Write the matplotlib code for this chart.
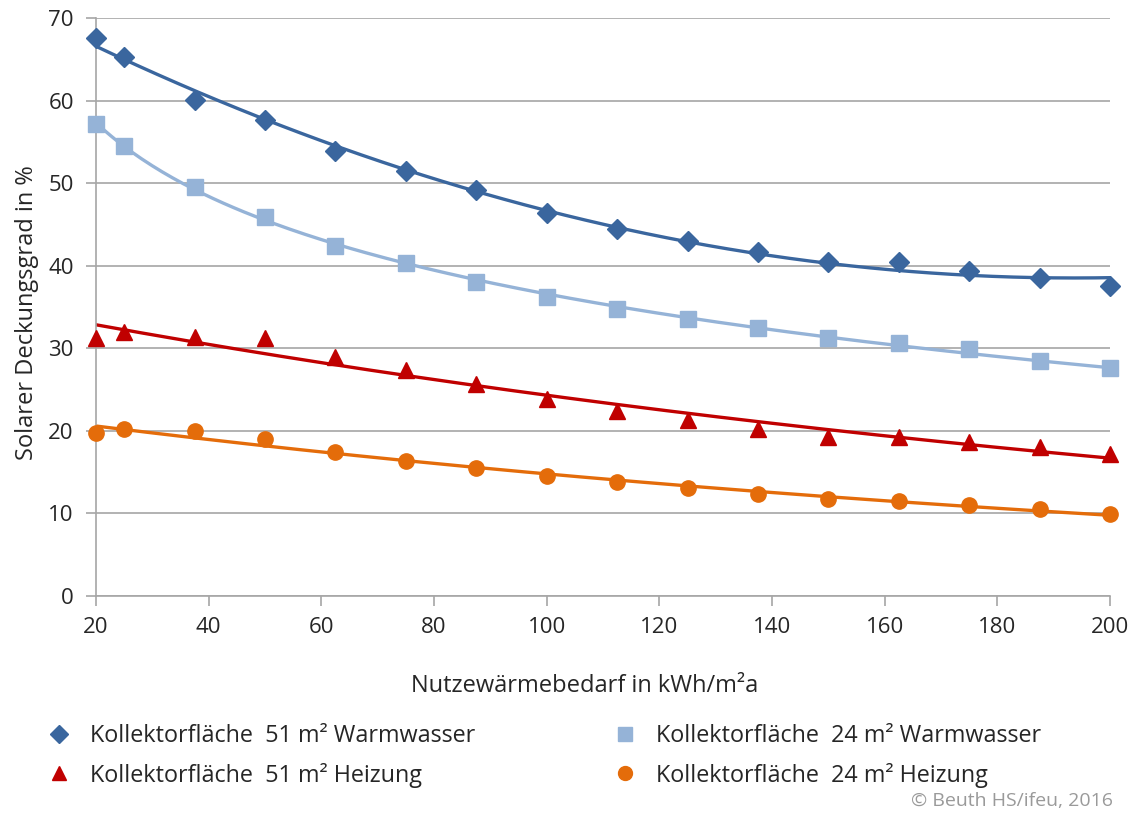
import numpy as np
import matplotlib
matplotlib.use("Agg")
from matplotlib import pyplot as plt
from matplotlib.lines import Line2D

plt.rcParams['font.family'] = ['Open Sans', 'DejaVu Sans']

# Nutzwärmebedarf (kWh/m²a)
x_vals = [20, 25, 37.5, 50, 62.5, 75, 87.5, 100, 112.5, 125, 137.5, 150, 162.5, 175, 187.5, 200]

# Solarer Deckungsgrad in %
ww_51 = [67.6, 65.3, 60.1, 57.6, 53.9, 51.5, 49.2, 46.4, 44.5, 43.0, 41.6, 40.4, 40.4, 39.3, 38.5, 37.6]
ww_24 = [57.2, 54.5, 49.5, 45.9, 42.4, 40.3, 38.0, 36.2, 34.8, 33.6, 32.5, 31.3, 30.6, 29.9, 28.4, 27.6]
hz_51 = [31.3, 32.0, 31.4, 31.3, 28.9, 27.4, 25.7, 23.9, 22.4, 21.3, 20.2, 19.3, 19.3, 18.6, 18.1, 17.2]
hz_24 = [19.7, 20.2, 20.0, 19.0, 17.4, 16.4, 15.5, 14.5, 13.8, 13.1, 12.3, 11.8, 11.5, 11.0, 10.5, 9.9]

labels = ["Kollektorfläche  51 m² Warmwasser", "Kollektorfläche  24 m² Warmwasser",
          "Kollektorfläche  51 m² Heizung", "Kollektorfläche  24 m² Heizung"]

c_dark = '#3A669E'
c_light = '#95B3D7'
c_red = '#C00000'
c_orange = '#E46C0A'
grid_c = '#A6A6A6'
text_c = '#262626'

x = np.array(x_vals)
xs = np.linspace(20, 200, 200)

# Trendlinien wie in Excel: polynomisch, logarithmisch, exponentiell
fit_ww51 = np.polyval(np.polyfit(x, ww_51, 2), xs)
fit_ww24 = np.polyval(np.polyfit(np.log(x), ww_24, 1), np.log(xs))
fit_hz51 = np.exp(np.polyval(np.polyfit(x, np.log(hz_51), 1), xs))
fit_hz24 = np.exp(np.polyval(np.polyfit(x, np.log(hz_24), 1), xs))

fig = plt.figure(figsize=(11.35, 8.17), dpi=100)
ax = fig.add_axes([0.0846, 0.2705, 0.8934, 0.7075])

ax.plot(xs, fit_ww51, color=c_dark, lw=2.4, zorder=2)
ax.plot(xs, fit_ww24, color=c_light, lw=2.4, zorder=2)
ax.plot(xs, fit_hz51, color=c_red, lw=2.4, zorder=2)
ax.plot(xs, fit_hz24, color=c_orange, lw=2.4, zorder=2)

ax.plot(x, ww_51, ls='none', marker='D', ms=10, color=c_dark, zorder=3, clip_on=False)
ax.plot(x, ww_24, ls='none', marker='s', ms=11, color=c_light, zorder=3, clip_on=False)
ax.plot(x, hz_51, ls='none', marker='^', ms=11, color=c_red, zorder=3, clip_on=False)
ax.plot(x, hz_24, ls='none', marker='o', ms=11, color=c_orange, zorder=3, clip_on=False)

ax.set_xlim(20, 200)
ax.set_ylim(0, 70)
ax.set_xticks(range(20, 201, 20))
ax.set_yticks(range(0, 71, 10))
ax.grid(axis='y', color=grid_c, lw=1.2)
ax.set_axisbelow(True)
for s in ['top', 'right']:
    ax.spines[s].set_visible(False)
for s in ['left', 'bottom']:
    ax.spines[s].set_color(grid_c)
    ax.spines[s].set_linewidth(1.2)
ax.tick_params(axis='both', colors=grid_c, labelcolor=text_c, labelsize=16,
               length=7, width=1.2)
ax.tick_params(axis='x', pad=8)
ax.tick_params(axis='y', pad=9)

ax.set_xlabel("Nutzewärmebedarf in kWh/m²a", fontsize=17, color=text_c)
ax.set_ylabel("Solarer Deckungsgrad in %", fontsize=17, color=text_c)
ax.xaxis.set_label_coords(0.482, -0.135)
ax.yaxis.set_label_coords(-0.056, 0.49)

handles = [
    Line2D([], [], ls='none', marker='D', ms=9, color=c_dark),
    Line2D([], [], ls='none', marker='^', ms=10, color=c_red),
    Line2D([], [], ls='none', marker='s', ms=10, color=c_light),
    Line2D([], [], ls='none', marker='o', ms=10, color=c_orange),
]
leg_labels = [labels[0], labels[2], labels[1], labels[3]]
fig.legend(handles, leg_labels, loc='upper left', bbox_to_anchor=(0.029, 0.128),
           ncol=2, frameon=False, fontsize=16.8, labelcolor=text_c,
           handletextpad=0.75, columnspacing=5.8, labelspacing=0.62,
           handlelength=1.2, borderpad=0)

fig.text(0.981, 0.009, "© Beuth HS/ifeu, 2016", ha='right', va='bottom',
         fontsize=14, color='#9A9A9A')

fig.savefig("out.png", dpi=100)
